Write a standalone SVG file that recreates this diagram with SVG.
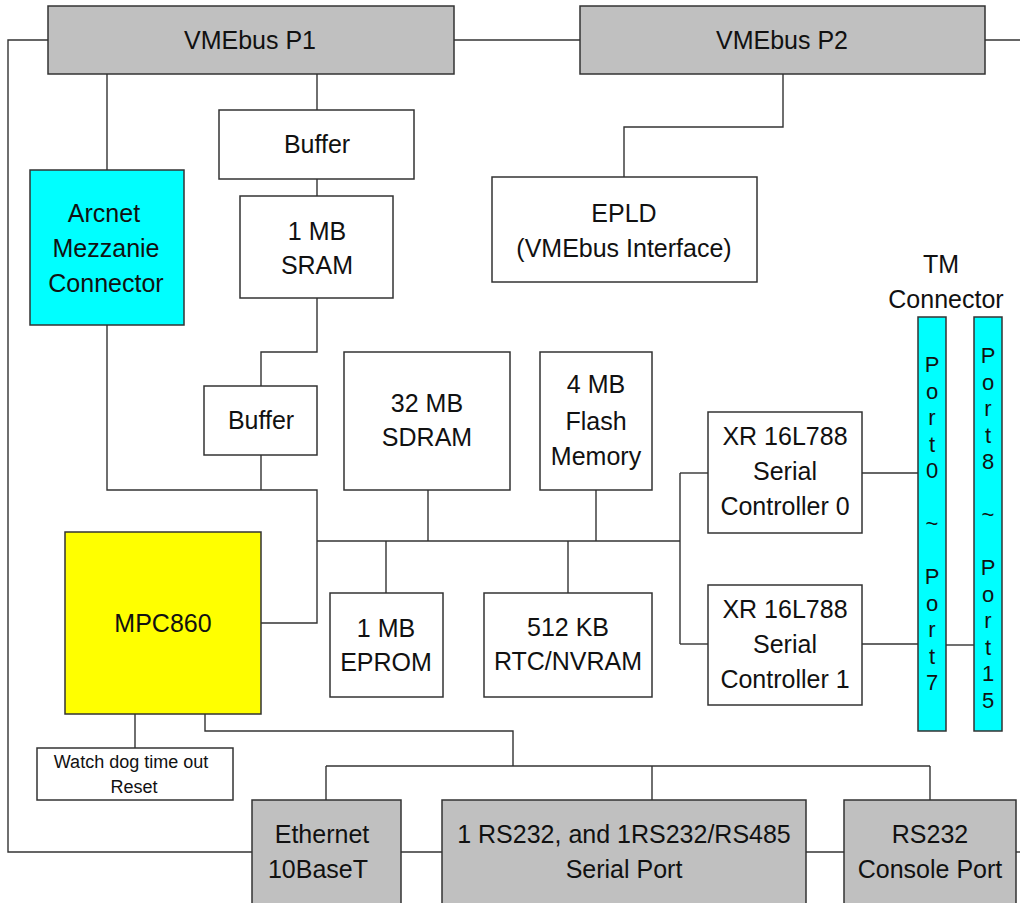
<svg xmlns="http://www.w3.org/2000/svg" width="1020" height="903" viewBox="0 0 1020 903">
<style>
.box{fill:#fff;stroke:#333;stroke-width:1.5}
.gray{fill:#c0c0c0}
.cyan{fill:#00ffff}
.yellow{fill:#ffff00}
text{font-family:"Liberation Sans",Arial,sans-serif;font-size:25px;fill:#111;text-anchor:middle}
.small{font-size:18px}
.port{font-size:22px}
#connectors path{fill:none;stroke:#333;stroke-width:1.4}
</style>
<rect width="1020" height="903" fill="#fff"/>
<g id="connectors">
<path d="M48,40 H8 V852 H252"/>
<path d="M454,40 H580"/>
<path d="M985,40 H1020"/>
<path d="M107,74 V170"/>
<path d="M317,74 V110"/>
<path d="M317,179 V196"/>
<path d="M783,74 V127 H624 V177"/>
<path d="M317,298 V352 H261 V386"/>
<path d="M261,455 V490"/>
<path d="M107,325 V490 H317 V623 H261"/>
<path d="M317,541 H680"/>
<path d="M428,490 V541"/>
<path d="M596,490 V541"/>
<path d="M386,541 V593"/>
<path d="M568,541 V593"/>
<path d="M680,473 V644"/>
<path d="M680,473 H708"/>
<path d="M680,644 H708"/>
<path d="M862,473 H918"/>
<path d="M862,644 H918"/>
<path d="M946,645 H974"/>
<path d="M135,714 V748"/>
<path d="M205,714 V731 H513 V766"/>
<path d="M326,766 H930"/>
<path d="M326,766 V800"/>
<path d="M652,766 V800"/>
<path d="M930,766 V800"/>
<path d="M401,852 H442"/>
<path d="M806,852 H844"/>
<path d="M1016,852 H1020"/>
</g>
<g id="vme-p1"><rect class="box gray" x="48" y="6" width="406" height="68"/><text x="250" y="49">VMEbus P1</text></g>
<g id="vme-p2"><rect class="box gray" x="580" y="6" width="405" height="68"/><text x="782" y="49">VMEbus P2</text></g>
<g id="buffer1"><rect class="box" x="219" y="110" width="195" height="69"/><text x="317" y="153">Buffer</text></g>
<g id="sram"><rect class="box" x="240" y="196" width="153" height="102"/><text x="317" y="240">1 MB</text><text x="317" y="274">SRAM</text></g>
<g id="arcnet"><rect class="box cyan" x="30" y="170" width="154" height="155"/><text x="104" y="222">Arcnet</text><text x="106" y="257">Mezzanie</text><text x="106" y="292">Connector</text></g>
<g id="epld"><rect class="box" x="492" y="177" width="265" height="105"/><text x="624" y="222">EPLD</text><text x="624" y="257">(VMEbus Interface)</text></g>
<g id="tm-label"><text x="941" y="273">TM</text><text x="946" y="308">Connector</text></g>
<g id="buffer2"><rect class="box" x="204" y="386" width="113" height="69"/><text x="261" y="429">Buffer</text></g>
<g id="sdram"><rect class="box" x="344" y="352" width="166" height="138"/><text x="427" y="412">32 MB</text><text x="427" y="446">SDRAM</text></g>
<g id="flash"><rect class="box" x="540" y="352" width="112" height="138"/><text x="596" y="393">4 MB</text><text x="596" y="430">Flash</text><text x="596" y="465">Memory</text></g>
<g id="sc0"><rect class="box" x="708" y="412" width="154" height="121"/><text x="785" y="445">XR 16L788</text><text x="785" y="480">Serial</text><text x="785" y="515">Controller 0</text></g>
<g id="sc1"><rect class="box" x="708" y="585" width="154" height="120"/><text x="785" y="618">XR 16L788</text><text x="785" y="653">Serial</text><text x="785" y="688">Controller 1</text></g>
<g id="port0-7"><rect class="box cyan" x="918" y="317" width="28" height="414"/>
<text class="port" x="932" y="372">P<tspan x="932" dy="26.5">o</tspan><tspan x="932" dy="26.5">r</tspan><tspan x="932" dy="26.5">t</tspan><tspan x="932" dy="26.5">0</tspan><tspan x="932" dy="53">~</tspan><tspan x="932" dy="53">P</tspan><tspan x="932" dy="26.5">o</tspan><tspan x="932" dy="26.5">r</tspan><tspan x="932" dy="26.5">t</tspan><tspan x="932" dy="26.5">7</tspan></text></g>
<g id="port8-15"><rect class="box cyan" x="974" y="317" width="28" height="414"/>
<text class="port" x="988" y="363">P<tspan x="988" dy="26.5">o</tspan><tspan x="988" dy="26.5">r</tspan><tspan x="988" dy="26.5">t</tspan><tspan x="988" dy="26.5">8</tspan><tspan x="988" dy="53">~</tspan><tspan x="988" dy="53">P</tspan><tspan x="988" dy="26.5">o</tspan><tspan x="988" dy="26.5">r</tspan><tspan x="988" dy="26.5">t</tspan><tspan x="988" dy="26.5">1</tspan><tspan x="988" dy="26.5">5</tspan></text></g>
<g id="mpc860"><rect class="box yellow" x="65" y="532" width="196" height="182"/><text x="163" y="632">MPC860</text></g>
<g id="eprom"><rect class="box" x="330" y="593" width="113" height="104"/><text x="386" y="637">1 MB</text><text x="386" y="671">EPROM</text></g>
<g id="rtc"><rect class="box" x="484" y="593" width="168" height="104"/><text x="568" y="636">512 KB</text><text x="568" y="670">RTC/NVRAM</text></g>
<g id="watchdog"><rect class="box" x="37" y="748" width="196" height="52"/><text class="small" x="131" y="768">Watch dog time out</text><text class="small" x="134" y="793">Reset</text></g>
<g id="ethernet"><rect class="box gray" x="252" y="800" width="149" height="110"/><text x="322" y="843">Ethernet</text><text x="318" y="878">10BaseT</text></g>
<g id="serial-port"><rect class="box gray" x="442" y="800" width="364" height="110"/><text x="624" y="843">1 RS232, and 1RS232/RS485</text><text x="624" y="878">Serial Port</text></g>
<g id="console"><rect class="box gray" x="844" y="800" width="172" height="110"/><text x="930" y="843">RS232</text><text x="930" y="878">Console Port</text></g>
</svg>
